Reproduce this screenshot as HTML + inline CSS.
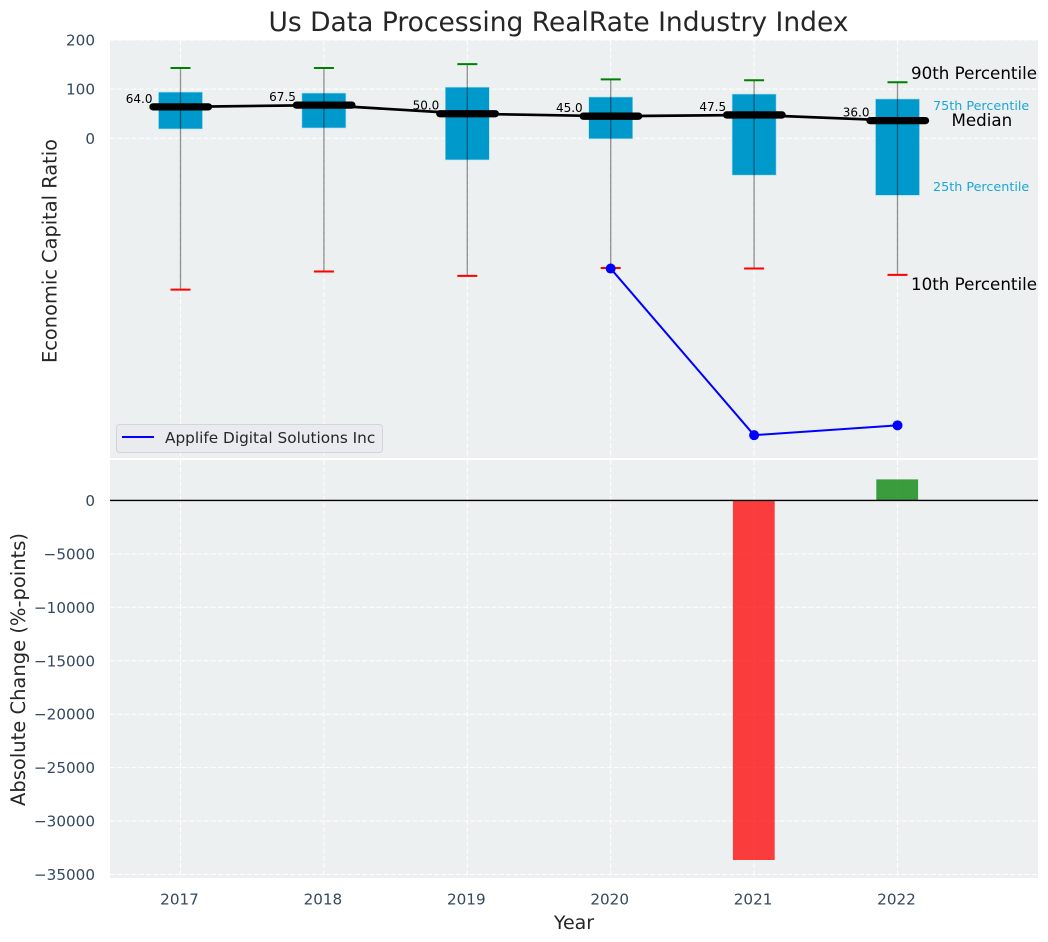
<!DOCTYPE html>
<html lang="en">
<head>
<meta charset="utf-8">
<title>Us Data Processing RealRate Industry Index</title>
<style>
html,body{margin:0;padding:0;background:#fff;}
svg{display:block;font-family:"DejaVu Sans","Liberation Sans",sans-serif;}
</style>
</head>
<body>
<svg id="chart" xmlns="http://www.w3.org/2000/svg" width="1048" height="942" viewBox="0 0 1048 942">
  <rect x="110" y="40" width="928" height="418" fill="#ecf0f1"/>
  <rect x="110" y="460" width="928" height="418" fill="#ecf0f1"/>
  <g id="grid"></g>
  <g id="boxes"></g>
  <g id="bars"></g>
  <g id="ticks"></g>
  <text x="558.5" y="31" text-anchor="middle" font-size="26.5px" fill="#262626">Us Data Processing RealRate Industry Index</text>
  <text transform="translate(56.5,251) rotate(-90)" text-anchor="middle" font-size="19.4px" fill="#262626">Economic Capital Ratio</text>
  <text transform="translate(25,669.5) rotate(-90)" text-anchor="middle" font-size="19.5px" fill="#262626">Absolute Change (%-points)</text>
  <text x="574" y="929" text-anchor="middle" font-size="19px" fill="#262626">Year</text>
  <text x="911" y="79" font-size="16.7px" fill="#000">90th Percentile</text>
  <text x="933" y="110" font-size="12.75px" fill="#1ea5d3">75th Percentile</text>
  <text x="951.5" y="126" font-size="16.7px" fill="#000">Median</text>
  <text x="933" y="191" font-size="12.75px" fill="#1ea5d3">25th Percentile</text>
  <text x="911" y="290" font-size="16.7px" fill="#000">10th Percentile</text>
  <g>
    <rect x="116.5" y="424.5" width="266" height="28" rx="3" fill="#eaebef" stroke="#d3d4d8" stroke-width="1"/>
    <line x1="122" y1="437" x2="154" y2="437" stroke="#0000ff" stroke-width="2"/>
    <text x="165" y="443" font-size="15.3px" fill="#262626">Applife Digital Solutions Inc</text>
  </g>
</svg>
<script>
const categories = ['2017', '2018', '2019', '2020', '2021', '2022'];
const p90 = [143, 143, 151, 120, 118, 114];
const q3 = [94, 92, 104, 84, 90, 80];
const medians = [64.0, 67.5, 50.0, 45.0, 47.5, 36.0];
const q1 = [19, 21, -44, -1, -75, -116];
const p10 = [-308, -271, -280, -264, -265, -278];
const companyValues = [null, null, null, -265, -604, -584];
const changeValues = [null, null, null, null, -33640, 1965];
const topTicks = [0, 100, 200];
const bottomTicks = [0, -5000, -10000, -15000, -20000, -25000, -30000, -35000];

const NS = 'http://www.w3.org/2000/svg';
function xS(i) { return 180.5 + i * 143.4; }
function yTop(v) { return 138.3 - v * 0.4915; }
function yBot(v) { return 500.4 - v * 0.01069; }
function mk(tag, parent, attrs, txt) {
  const n = document.createElementNS(NS, tag);
  for (const k in attrs) n.setAttribute(k, attrs[k]);
  if (txt !== undefined) n.textContent = txt;
  parent.appendChild(n);
  return n;
}
function fmt(v) { return v < 0 ? '\u2212' + Math.abs(v) : String(v); }

const grid = document.getElementById('grid');
const boxes = document.getElementById('boxes');
const bars = document.getElementById('bars');
const ticks = document.getElementById('ticks');
const gridStyle = { stroke: '#ffffff', 'stroke-width': 1, 'stroke-dasharray': '5 2.2', fill: 'none' };

topTicks.forEach(function (t) {
  const y = yTop(t);
  const g = mk('line', grid, Object.assign({ x1: 110, x2: 1038, y1: y, y2: y }, gridStyle));
  
  
  const l = mk('text', ticks, { x: 95, y: y + 5.5, 'text-anchor': 'end', 'font-size': '15.2px', fill: '#34495e' }, fmt(t));
  
  
});
bottomTicks.forEach(function (t) {
  const y = yBot(t);
  if (t !== 0) {
    const g = mk('line', grid, Object.assign({ x1: 110, x2: 1038, y1: y, y2: y }, gridStyle));
    
    
  }
  const l = mk('text', ticks, { x: 95, y: y + 5.5, 'text-anchor': 'end', 'font-size': '15.2px', fill: '#34495e' }, fmt(t));
  
  
});
categories.forEach(function (c, i) {
  const x = xS(i);
  const g1 = mk('line', grid, Object.assign({ x1: x, x2: x, y1: 40, y2: 458 }, gridStyle));
  
  
  const g2 = mk('line', grid, Object.assign({ x1: x, x2: x, y1: 460, y2: 878 }, gridStyle));
  
  
  const l = mk('text', ticks, { x: x - 1, y: 904.5, 'text-anchor': 'middle', 'font-size': '15.2px', fill: '#34495e' }, c);
  
  
});

categories.forEach(function (c, i) {
  const x = xS(i);
  const box = mk('rect', boxes, { x: x - 22, y: yTop(q3[i]), width: 44, height: yTop(q1[i]) - yTop(q3[i]), fill: '#0099cc', stroke: '#a9dcec', 'stroke-width': 0.6 });
  
  
  const w = mk('line', boxes, { x1: x, x2: x, y1: yTop(p90[i]), y2: yTop(p10[i]), stroke: '#000', 'stroke-opacity': 0.42, 'stroke-width': 1.3 });
  
  
  const hi = mk('line', boxes, { x1: x - 10, x2: x + 10, y1: yTop(p90[i]), y2: yTop(p90[i]), stroke: '#008000', 'stroke-width': 2 });
  
  
  const lo = mk('line', boxes, { x1: x - 10, x2: x + 10, y1: yTop(p10[i]), y2: yTop(p10[i]), stroke: '#ff0000', 'stroke-width': 2 });
  
  
  const t = mk('text', boxes, { x: x - 28, y: yTop(medians[i]) - 4, 'text-anchor': 'end', 'font-size': '12px', fill: '#000' }, medians[i].toFixed(1));
  
  
});

const medianPath = mk('polyline', boxes, { points: medians.map(function (v, i) { return xS(i) + ',' + yTop(v); }).join(' '), fill: 'none', stroke: '#000', 'stroke-width': 2.7 });


medians.forEach(function (v, i) {
  const x = xS(i);
  const m = mk('line', boxes, { x1: x - 27.5, x2: x + 28, y1: yTop(v), y2: yTop(v), stroke: '#000', 'stroke-width': 7.3, 'stroke-linecap': 'round' });
  
  
});

const companyPts = [];
companyValues.forEach(function (v, i) { if (v !== null) companyPts.push([xS(i), yTop(v)]); });
const companyLine = mk('polyline', boxes, { points: companyPts.map(function (p) { return p.join(','); }).join(' '), fill: 'none', stroke: '#0000ff', 'stroke-width': 2 });


companyPts.forEach(function (p) {
  const d = mk('circle', boxes, { cx: p[0], cy: p[1], r: 5, fill: '#0000ff' });
  
  
});

changeValues.forEach(function (v, i) {
  if (v === null) return;
  const y0 = yBot(0), y1 = yBot(v);
  const b = mk('rect', bars, { x: xS(i) - 21.2, y: Math.min(y0, y1), width: 41.8, height: Math.abs(y1 - y0), fill: v < 0 ? '#ff0000' : '#008000', 'fill-opacity': 0.75 });
  
  
});
const zero = mk('line', bars, { x1: 110, x2: 1038, y1: yBot(0), y2: yBot(0), stroke: '#000', 'stroke-width': 1.4 });


</script>
</body>
</html>
